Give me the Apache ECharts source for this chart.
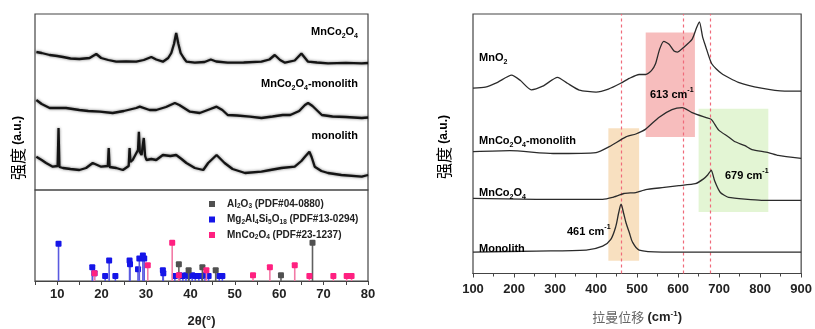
<!DOCTYPE html>
<html><head><meta charset="utf-8">
<script src="https://cdn.jsdelivr.net/npm/echarts@6/dist/echarts.min.js"></script>
<style>html,body{margin:0;padding:0;background:#fff}#c{width:815px;height:329px}</style>
</head><body><div id="c"></div>
<script>
// ---------- XRD (left) : [2theta, intensity a.u.] ----------
const xrdMnCo2O4 = [[5.3,138],[6.5,137],[8.3,135],[10,134],[11.3,133],[13,131.5],[15,131],[17.3,132],[18.8,136],[19.9,132],[21.5,130],[23.3,128.3],[25.5,128.5],[27.8,128.3],[29.5,130],[31.2,133],[32.3,130.5],[33.8,128.3],[35,132],[35.7,137],[36.3,146],[36.8,157],[37.3,146],[37.8,137],[38.5,132],[39.1,128.3],[41,127.3],[43.2,128],[44.6,130.5],[45.8,128.5],[48.4,127.3],[52,127.5],[56,128.3],[57.8,130.5],[59,135],[60.2,130],[61.3,127.3],[63.5,129.5],[65,136.5],[66.5,128.3],[68.5,127.5],[71,126.7],[75,127.2],[78.6,126.7],[80,127]];
const xrdComposite = [[5.3,90],[6.5,86],[8.3,82],[10,82],[12,82],[15,80],[17,79],[19.6,78.3],[22.5,77],[25,79],[27.8,82],[28.6,83.3],[30.8,80],[32.3,80],[34.5,83],[36.5,87],[37.5,85],[39.9,78.3],[42.1,77],[44.5,81],[45.9,83.3],[47.2,80],[48.4,75],[50.5,74.5],[53.4,73.3],[56,72],[58.5,73.5],[60.8,75],[62.5,75],[64.5,79],[65.8,85],[66.5,87],[67.5,84],[69.6,75],[72,73.5],[75,73],[78.6,72],[80,72.5]];
const xrdMonolith = [[5.3,33.3],[6.5,30],[7.5,27],[9,23.3],[10.1,24],[10.3,62],[10.5,23],[11.3,22],[13,21],[15,20],[16.5,22],[18,27],[19.9,23.3],[21.4,24],[21.6,42],[21.8,23],[23.3,22],[24.8,20],[26.1,24],[26.3,42],[26.5,28],[27,30],[27.8,36.7],[28.2,40],[28.4,58.3],[28.6,38],[29,35],[29.5,52],[29.8,34],[30.1,30],[31.2,31],[32.3,30],[33.8,35],[35.5,34],[36.8,35],[38,31],[39.1,27],[41,22],[42.9,20],[44,27],[45.9,35],[47.7,27],[49.5,21],[52.3,17],[56,18.3],[58,20],[60.5,22],[63.5,23.3],[65,29],[65.8,33.3],[66.8,38.3],[67.3,33],[68,23.3],[69.5,19],[71,17],[74,15],[78.6,13.3],[80,15]];
// reference patterns: [2theta, relative height]
const refAl2O3 = [[37.4,17],[39.6,11],[42.7,14],[45.7,11],[60.4,6],[67.5,39]];
const refCordierite = [[10.3,38],[17.9,14],[18.4,8],[20.8,5],[21.7,21],[23.1,5],[26.3,21],[26.4,17],[28.2,12],[28.5,23],[29.3,26],[29.6,23],[33.8,11],[33.9,8],[36.5,5],[37.6,6],[38.3,5],[39.0,6],[39.7,5],[40.4,6],[41.1,5],[41.9,5],[42.6,5],[43.3,6],[44.1,5],[46.5,5],[47.2,5]];
const refMnCo2O4 = [[18.4,8],[30.4,16],[35.9,39],[37.4,6],[43.6,11],[54.1,6],[57.9,14],[63.5,16],[66.8,5],[72.2,5],[75.2,5],[76.3,5]];
const xrdTicks = [10,20,30,40,50,60,70,80];

// ---------- Raman (right) : [shift cm-1, intensity a.u.] ----------
const ramanMnO2 = [[100,190],[130,191],[160,196],[194,203.3],[215,198],[242,188.3],[270,192],[306,201],[330,195],[359,188],[400,186],[430,189],[460,195],[481,200],[505,204],[521,204],[535,208],[545,215],[555,230],[565,238],[578,235],[590,228],[598,227],[614,232],[634,240],[645,252],[652,258],[660,242],[667,233],[682,215],[706,205],[747,196],[803,190],[860,187],[900,187]];
const ramanComposite = [[100,125],[190,126],[295,123],[400,124],[432,130],[473,140],[497,143],[521,148],[553,160],[585,168],[610,170],[634,165],[667,160],[681,158],[699,147],[723,140],[739,135],[763,131],[780,127],[820,124],[844,121],[900,118]];
const ramanMnCo2O4 = [[100,77],[254,76],[416,76],[440,78],[468,82],[497,83],[521,86],[561,88],[602,90],[642,92],[662,97],[672,101],[681,106],[689,95],[703,83],[723,78],[803,75],[900,75]];
const ramanMonolith = [[100,22],[254,23],[376,24],[416,28],[436,35],[448,48],[455,62],[461,71],[467,62],[473,52],[481,42],[489,32],[505,24],[561,22],[682,22],[900,22]];
const ramanPeaks = [461,613,679];
const ramanBands = [[430,505,13,149],[521,641,140,247],[650,820,63,169]];
const ramanTicks = [100,200,300,400,500,600,700,800,900];

const F = 'Liberation Sans, Arial, sans-serif';
const CJK = 'Noto Sans CJK SC';
const rich = {
  b:{fontFamily:F,fontSize:11,fontWeight:'bold',color:'#222',lineHeight:16},
  s:{fontFamily:F,fontSize:7,fontWeight:'bold',color:'#222',lineHeight:9,verticalAlign:'bottom'},
  p:{fontFamily:F,fontSize:7,fontWeight:'bold',color:'#222',lineHeight:8,verticalAlign:'top'}
};
const legRich = {
  sp:{width:7},
  b:{fontFamily:F,fontSize:10,fontWeight:'bold',color:'#222',lineHeight:12},
  s:{fontFamily:F,fontSize:6.5,fontWeight:'bold',color:'#222',lineHeight:7,verticalAlign:'bottom'}
};
const legNames = {
  'Al2O3':'{sp|}{b|Al}{s|2}{b|O}{s|3}{b| (PDF#04-0880)}',
  'Mg2Al4Si5O18':'{sp|}{b|Mg}{s|2}{b|Al}{s|4}{b|Si}{s|5}{b|O}{s|18}{b| (PDF#13-0294)}',
  'MnCo2O4':'{sp|}{b|MnCo}{s|2}{b|O}{s|4}{b| (PDF#23-1237)}'
};

function stick(name, data, color, stem){
  return {
    type:'custom', name:name, xAxisIndex:1, yAxisIndex:1, data:data,
    itemStyle:{color:color},
    renderItem:function(params, api){
      const x = api.value(0), h = api.value(1);
      const p0 = api.coord([x,0]), p1 = api.coord([x,h]);
      return {type:'group', children:[
        {type:'line', shape:{x1:p0[0],y1:p0[1],x2:p1[0],y2:p1[1]}, style:{stroke:stem,lineWidth:1.6}},
        {type:'rect', shape:{x:p1[0]-3,y:p1[1]-3,width:6,height:6,r:1}, style:{fill:color}}
      ]};
    }
  };
}
const xrdLine = {color:'#141414',width:2.3,shadowBlur:3,shadowColor:'rgba(0,0,0,0.55)'};
const ramanLine = {color:'#2b2b2b',width:1.3};
function txt(x,y,text,align){
  return {type:'text',x:x,y:y,z:50,style:{text:text,rich:rich,align:align||'left',verticalAlign:'middle'}};
}

const chart = echarts.init(document.getElementById('c'), null, {renderer:'canvas'});
chart.setOption({
  backgroundColor:'#fff',
  animation:false,
  grid:[
    {left:35,top:14,width:333,height:176,show:true,borderColor:'#444',borderWidth:1.2},
    {left:35,top:190,width:333,height:93,show:true,borderColor:'#444',borderWidth:1.2},
    {left:473,top:14,width:330,height:266,show:true,borderColor:'#444',borderWidth:1.2}
  ],
  xAxis:[
    {gridIndex:0,type:'value',min:5,max:80,show:false},
    {gridIndex:1,type:'value',min:5,max:80,interval:5,
      axisLine:{show:true,lineStyle:{color:'#444',width:1.2}},
      axisTick:{show:true,length:4,lineStyle:{color:'#444'}},
      splitLine:{show:false},
      axisLabel:{margin:7,fontFamily:F,fontSize:13,fontWeight:'bold',color:'#222',
        formatter:function(v){return xrdTicks.indexOf(v)>=0?String(v):'';}},
      name:'2θ(°)',nameLocation:'middle',nameGap:34,
      nameTextStyle:{fontFamily:F,fontSize:13,fontWeight:'bold',color:'#222'}},
    {gridIndex:2,type:'value',min:100,max:900,interval:100,
      axisLine:{show:true,lineStyle:{color:'#444',width:1.2}},
      axisTick:{show:true,length:4,lineStyle:{color:'#444'}},
      minorTick:{show:true,splitNumber:2,length:3,lineStyle:{color:'#444'}},
      splitLine:{show:false},
      axisLabel:{margin:9,fontFamily:F,fontSize:13,fontWeight:'bold',color:'#222',
        formatter:function(v){return ramanTicks.indexOf(v)>=0?String(v):'';}},
      name:'{c|拉曼位移} {b|(cm}{p|-1}{b|)}',nameLocation:'middle',nameGap:36,
      nameTextStyle:{rich:{
        c:{fontFamily:CJK,fontSize:13,color:'#666',lineHeight:16},
        b:{fontFamily:F,fontSize:13,fontWeight:'bold',color:'#222',lineHeight:16},
        p:{fontFamily:F,fontSize:8,fontWeight:'bold',color:'#222',lineHeight:9,verticalAlign:'top'}}}}
  ],
  yAxis:[
    {gridIndex:0,type:'value',min:0,max:176,show:false},
    {gridIndex:1,type:'value',min:0,max:93,show:false},
    {gridIndex:2,type:'value',min:0,max:266,show:false}
  ],
  legend:{
    left:204,top:193,orient:'vertical',itemWidth:6,itemHeight:6,itemGap:3.5,
    data:[
      {name:'Al2O3',icon:'rect',itemStyle:{color:'#505050'}},
      {name:'Mg2Al4Si5O18',icon:'rect',itemStyle:{color:'#1515e8'}},
      {name:'MnCo2O4',icon:'rect',itemStyle:{color:'#ff2080'}}
    ],
    formatter:function(n){return legNames[n];},
    textStyle:{rich:legRich}
  },
  series:[
    {type:'line',xAxisIndex:0,yAxisIndex:0,data:xrdMnCo2O4,showSymbol:false,lineStyle:xrdLine,z:3},
    {type:'line',xAxisIndex:0,yAxisIndex:0,data:xrdComposite,showSymbol:false,lineStyle:xrdLine,z:3},
    {type:'line',xAxisIndex:0,yAxisIndex:0,data:xrdMonolith,showSymbol:false,lineStyle:xrdLine,z:3},
    stick('Mg2Al4Si5O18', refCordierite, '#1515e8', '#5a5ae0'),
    stick('Al2O3', refAl2O3, '#505050', '#606060'),
    stick('MnCo2O4', refMnCo2O4, '#ff2080', '#f27aa6'),
    {type:'line',xAxisIndex:2,yAxisIndex:2,data:[],z:1,
      markArea:{silent:true,z:1,data:[
        [{xAxis:ramanBands[0][0],yAxis:ramanBands[0][2],itemStyle:{color:'#f8e0c0'}},{xAxis:ramanBands[0][1],yAxis:ramanBands[0][3]}],
        [{xAxis:ramanBands[1][0],yAxis:ramanBands[1][2],itemStyle:{color:'#f7bdbd'}},{xAxis:ramanBands[1][1],yAxis:ramanBands[1][3]}],
        [{xAxis:ramanBands[2][0],yAxis:ramanBands[2][2],itemStyle:{color:'#e3f5d4'}},{xAxis:ramanBands[2][1],yAxis:ramanBands[2][3]}]
      ]},
      markLine:{silent:true,symbol:'none',label:{show:false},z:2,
        lineStyle:{type:[3,3],color:'#f06a7a',width:1.2},
        data:ramanPeaks.map(function(v){return {xAxis:v};})}},
    {type:'line',xAxisIndex:2,yAxisIndex:2,data:ramanMnO2,showSymbol:false,smooth:0.2,lineStyle:ramanLine,z:3},
    {type:'line',xAxisIndex:2,yAxisIndex:2,data:ramanComposite,showSymbol:false,smooth:0.2,lineStyle:ramanLine,z:3},
    {type:'line',xAxisIndex:2,yAxisIndex:2,data:ramanMnCo2O4,showSymbol:false,smooth:0.15,lineStyle:ramanLine,z:3},
    {type:'line',xAxisIndex:2,yAxisIndex:2,data:ramanMonolith,showSymbol:false,smooth:0.3,lineStyle:ramanLine,z:3}
  ],
  graphic:[
    txt(358,32,'{b|MnCo}{s|2}{b|O}{s|4}','right'),
    txt(358,84,'{b|MnCo}{s|2}{b|O}{s|4}{b|-monolith}','right'),
    txt(358,136,'{b|monolith}','right'),
    txt(479,58,'{b|MnO}{s|2}'),
    txt(479,141,'{b|MnCo}{s|2}{b|O}{s|4}{b|-monolith}'),
    txt(479,193,'{b|MnCo}{s|2}{b|O}{s|4}'),
    txt(479,249,'{b|Monolith}'),
    txt(650,95,'{b|613 cm}{p|-1}'),
    txt(725,176,'{b|679 cm}{p|-1}'),
    txt(567,232,'{b|461 cm}{p|-1}'),
    {type:'text',x:18,y:148,rotation:Math.PI/2,style:{text:'{c|强度} {a|(a.u.)}',align:'center',verticalAlign:'middle',
      rich:{c:{fontFamily:CJK,fontSize:16,color:'#888'},a:{fontFamily:F,fontSize:12,fontWeight:'bold',color:'#222'}}}},
    {type:'text',x:444,y:147,rotation:Math.PI/2,style:{text:'{c|强度} {a|(a.u.)}',align:'center',verticalAlign:'middle',
      rich:{c:{fontFamily:CJK,fontSize:16,color:'#888'},a:{fontFamily:F,fontSize:12,fontWeight:'bold',color:'#222'}}}}
  ]
});
</script></body></html>
